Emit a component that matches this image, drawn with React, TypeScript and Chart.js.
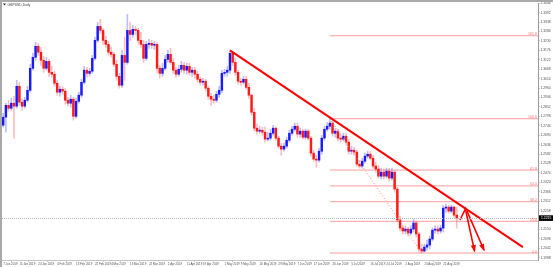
import { useEffect, useRef } from "react";
import { Chart, registerables } from "chart.js";

Chart.register(...registerables);

const symbolTitle = "GBPUSD,Daily";
const firstBar = 2;
// [open, high, low, close] per daily bar
const bars: [number, number, number, number][] = [
  [1.2793, 1.2821, 1.2730, 1.2747], [1.2747, 1.2816, 1.2736, 1.2793], [1.2793, 1.2873, 1.2707, 1.2861], [1.2861, 1.2890, 1.2827, 1.2844],
  [1.2844, 1.2902, 1.2833, 1.2873], [1.2873, 1.2913, 1.2673, 1.2856], [1.2856, 1.3004, 1.2844, 1.2970], [1.2970, 1.2993, 1.2861, 1.2879],
  [1.2879, 1.2896, 1.2833, 1.2856], [1.2856, 1.2907, 1.2844, 1.2890], [1.2890, 1.2970, 1.2879, 1.2947], [1.2947, 1.3096, 1.2936, 1.3073],
  [1.3073, 1.3159, 1.3062, 1.3136], [1.3136, 1.3222, 1.3119, 1.3199], [1.3199, 1.3216, 1.3147, 1.3165], [1.3165, 1.3193, 1.3090, 1.3119],
  [1.3119, 1.3142, 1.3050, 1.3073], [1.3073, 1.3136, 1.3062, 1.3113], [1.3113, 1.3124, 1.3027, 1.3050], [1.3050, 1.3084, 1.3022, 1.3039],
  [1.3039, 1.3056, 1.2970, 1.2987], [1.2987, 1.3004, 1.2919, 1.2936], [1.2936, 1.2970, 1.2913, 1.2953], [1.2953, 1.2970, 1.2924, 1.2942],
  [1.2942, 1.2959, 1.2867, 1.2890], [1.2890, 1.2907, 1.2856, 1.2873], [1.2873, 1.2919, 1.2850, 1.2896], [1.2896, 1.2907, 1.2776, 1.2798],
  [1.2798, 1.2902, 1.2787, 1.2884], [1.2884, 1.2936, 1.2873, 1.2919], [1.2919, 1.3010, 1.2907, 1.2993], [1.2993, 1.3084, 1.2982, 1.3062],
  [1.3062, 1.3079, 1.3022, 1.3044], [1.3044, 1.3073, 1.3027, 1.3056], [1.3056, 1.3147, 1.3044, 1.3130], [1.3130, 1.3250, 1.3119, 1.3233],
  [1.3233, 1.3336, 1.3222, 1.3313], [1.3313, 1.3353, 1.3273, 1.3290], [1.3290, 1.3302, 1.3210, 1.3233], [1.3233, 1.3256, 1.3193, 1.3210],
  [1.3210, 1.3227, 1.3147, 1.3165], [1.3165, 1.3193, 1.3136, 1.3153], [1.3153, 1.3165, 1.3084, 1.3096], [1.3096, 1.3119, 1.3004, 1.3027],
  [1.3027, 1.3044, 1.2959, 1.2976], [1.2976, 1.3176, 1.2964, 1.3147], [1.3147, 1.3250, 1.3004, 1.3107], [1.3107, 1.3382, 1.3096, 1.3290],
  [1.3290, 1.3336, 1.3233, 1.3267], [1.3267, 1.3319, 1.3250, 1.3296], [1.3296, 1.3313, 1.3267, 1.3290], [1.3290, 1.3302, 1.3210, 1.3233],
  [1.3233, 1.3279, 1.3193, 1.3210], [1.3210, 1.3233, 1.3107, 1.3130], [1.3130, 1.3227, 1.3119, 1.3210], [1.3210, 1.3239, 1.3187, 1.3216],
  [1.3216, 1.3233, 1.3187, 1.3205], [1.3205, 1.3227, 1.3182, 1.3210], [1.3210, 1.3222, 1.3050, 1.3073], [1.3073, 1.3090, 1.3016, 1.3044],
  [1.3044, 1.3102, 1.3027, 1.3073], [1.3073, 1.3147, 1.3062, 1.3124], [1.3124, 1.3176, 1.3107, 1.3153], [1.3153, 1.3187, 1.3096, 1.3107],
  [1.3107, 1.3130, 1.3044, 1.3062], [1.3062, 1.3079, 1.3022, 1.3039], [1.3039, 1.3090, 1.3027, 1.3067], [1.3067, 1.3113, 1.3050, 1.3090],
  [1.3090, 1.3107, 1.3044, 1.3062], [1.3062, 1.3102, 1.3039, 1.3084], [1.3084, 1.3102, 1.3033, 1.3050], [1.3050, 1.3079, 1.3027, 1.3062],
  [1.3062, 1.3079, 1.3016, 1.3039], [1.3039, 1.3056, 1.2993, 1.3010], [1.3010, 1.3022, 1.2976, 1.2993], [1.2993, 1.3016, 1.2976, 1.2999],
  [1.2999, 1.3010, 1.2942, 1.2959], [1.2959, 1.2970, 1.2896, 1.2913], [1.2913, 1.2930, 1.2861, 1.2896], [1.2896, 1.2919, 1.2873, 1.2890],
  [1.2890, 1.2942, 1.2879, 1.2924], [1.2924, 1.2970, 1.2907, 1.2947], [1.2947, 1.3062, 1.2930, 1.3044], [1.3044, 1.3067, 1.3027, 1.3050],
  [1.3050, 1.3084, 1.3027, 1.3062], [1.3062, 1.3176, 1.3044, 1.3159], [1.3159, 1.3165, 1.3090, 1.3107], [1.3107, 1.3130, 1.3033, 1.3050],
  [1.3050, 1.3062, 1.2982, 1.2999], [1.2999, 1.3016, 1.2976, 1.2993], [1.2993, 1.3027, 1.2982, 1.3010], [1.3010, 1.3027, 1.2953, 1.2964],
  [1.2964, 1.2987, 1.2902, 1.2919], [1.2919, 1.2924, 1.2804, 1.2821], [1.2821, 1.2844, 1.2713, 1.2730], [1.2730, 1.2753, 1.2696, 1.2713],
  [1.2713, 1.2741, 1.2701, 1.2718], [1.2718, 1.2736, 1.2690, 1.2707], [1.2707, 1.2736, 1.2650, 1.2667], [1.2667, 1.2707, 1.2656, 1.2673],
  [1.2673, 1.2724, 1.2661, 1.2701], [1.2701, 1.2747, 1.2690, 1.2730], [1.2730, 1.2736, 1.2661, 1.2673], [1.2673, 1.2684, 1.2616, 1.2627],
  [1.2627, 1.2644, 1.2575, 1.2610], [1.2610, 1.2644, 1.2598, 1.2627], [1.2627, 1.2678, 1.2616, 1.2661], [1.2661, 1.2718, 1.2650, 1.2701],
  [1.2701, 1.2741, 1.2690, 1.2724], [1.2724, 1.2759, 1.2713, 1.2741], [1.2741, 1.2759, 1.2678, 1.2696], [1.2696, 1.2730, 1.2678, 1.2713],
  [1.2713, 1.2724, 1.2667, 1.2678], [1.2678, 1.2724, 1.2667, 1.2713], [1.2713, 1.2724, 1.2661, 1.2673], [1.2673, 1.2684, 1.2570, 1.2587],
  [1.2587, 1.2604, 1.2541, 1.2553], [1.2553, 1.2575, 1.2507, 1.2547], [1.2547, 1.2616, 1.2536, 1.2598], [1.2598, 1.2690, 1.2581, 1.2673],
  [1.2673, 1.2741, 1.2661, 1.2724], [1.2724, 1.2764, 1.2713, 1.2741], [1.2741, 1.2784, 1.2724, 1.2759], [1.2759, 1.2770, 1.2684, 1.2701],
  [1.2701, 1.2730, 1.2678, 1.2713], [1.2713, 1.2724, 1.2656, 1.2673], [1.2673, 1.2696, 1.2650, 1.2667], [1.2667, 1.2701, 1.2656, 1.2684],
  [1.2684, 1.2701, 1.2633, 1.2650], [1.2650, 1.2667, 1.2581, 1.2598], [1.2598, 1.2627, 1.2581, 1.2604], [1.2604, 1.2621, 1.2575, 1.2593],
  [1.2593, 1.2604, 1.2513, 1.2524], [1.2524, 1.2547, 1.2501, 1.2513], [1.2513, 1.2558, 1.2501, 1.2541], [1.2541, 1.2587, 1.2530, 1.2570],
  [1.2570, 1.2598, 1.2558, 1.2581], [1.2581, 1.2598, 1.2547, 1.2558], [1.2558, 1.2575, 1.2501, 1.2513], [1.2513, 1.2536, 1.2478, 1.2496],
  [1.2496, 1.2518, 1.2444, 1.2455], [1.2455, 1.2501, 1.2438, 1.2478], [1.2478, 1.2496, 1.2438, 1.2455], [1.2455, 1.2501, 1.2444, 1.2484],
  [1.2484, 1.2501, 1.2427, 1.2444], [1.2444, 1.2501, 1.2432, 1.2478], [1.2478, 1.2490, 1.2364, 1.2381], [1.2381, 1.2392, 1.2192, 1.2204],
  [1.2204, 1.2227, 1.2141, 1.2158], [1.2158, 1.2170, 1.2124, 1.2141], [1.2141, 1.2170, 1.2124, 1.2152], [1.2152, 1.2164, 1.2112, 1.2129],
  [1.2129, 1.2170, 1.2118, 1.2152], [1.2152, 1.2209, 1.2135, 1.2187], [1.2187, 1.2198, 1.2106, 1.2124], [1.2124, 1.2135, 1.2026, 1.2038],
  [1.2038, 1.2066, 1.2015, 1.2026], [1.2026, 1.2066, 1.2021, 1.2049], [1.2049, 1.2089, 1.2032, 1.2061], [1.2061, 1.2112, 1.2038, 1.2095],
  [1.2095, 1.2158, 1.2084, 1.2146], [1.2146, 1.2170, 1.2129, 1.2152], [1.2152, 1.2170, 1.2124, 1.2141], [1.2141, 1.2175, 1.2129, 1.2158],
  [1.2158, 1.2289, 1.2135, 1.2272], [1.2272, 1.2295, 1.2249, 1.2278], [1.2278, 1.2289, 1.2244, 1.2255], [1.2255, 1.2289, 1.2244, 1.2278],
  [1.2278, 1.2284, 1.2221, 1.2232], [1.2232, 1.2278, 1.2158, 1.2215],
];

const xTickBars = [3, 9, 16, 23, 30, 37, 43, 50, 57, 64, 71, 77, 85, 91, 98, 105, 112, 118, 125, 132, 139, 145, 152, 159, 166];
const xTickLabels = [
  "7 Jan 2019", "15 Jan 2019", "24 Jan 2019", "4 Feb 2019", "13 Feb 2019", "22 Feb 2019", "4 Mar 2019",
  "13 Mar 2019", "22 Mar 2019", "2 Apr 2019", "11 Apr 2019", "19 Apr 2019", "1 May 2019", "9 May 2019",
  "20 May 2019", "29 May 2019", "7 Jun 2019", "17 Jun 2019", "26 Jun 2019", "5 Jul 2019", "16 Jul 2019",
  "24 Jul 2019", "2 Aug 2019", "13 Aug 2019", "22 Aug 2019",
];
const yTicks = [
  1.3446, 1.3392, 1.3338, 1.3284, 1.3230, 1.3176, 1.3122, 1.3068, 1.3014, 1.2960, 1.2906, 1.2852, 1.2798, 1.2744,
  1.2690, 1.2636, 1.2582, 1.2528, 1.2474, 1.2420, 1.2366, 1.2312, 1.2258, 1.2204, 1.2150, 1.2096, 1.2042, 1.1988,
];
const xRange = [2.56, 201.1];
const yRange = [1.1975, 1.3447];

const fibHighBar = 124;
const fibHighPrice = 1.2784;
const fibLowBar = 158;
const fibLowPrice = 1.2015;
const fibRatios = [0, 0.236, 0.382, 0.5, 0.618, 1, 1.618];
const fibLabels = ["0.0", "23.6", "38.2", "50.0", "61.8", "100.0", "161.8"];

const trendBars = [87, 195.5];
const trendPrices = [1.3176, 1.2049];
const arrow1Bars = [172.2, 174.2, 177.6];
const arrow1Prices = [1.2204, 1.2267, 1.2026];
const arrow2Bars = [174.8, 181.1];
const arrow2Prices = [1.2255, 1.2032];
const lastPrice = 1.2215;

const BULL = "#1a1aff";
const BEAR = "#ff1a1a";
const FONT = "'Liberation Sans', Arial, sans-serif";

export default function App() {
  const ref = useRef<HTMLCanvasElement | null>(null);

  useEffect(() => {
    if (!ref.current) return;
    const isBull = (b: number[]) => b[3] >= b[0];
    const wickData = bars.map((b, k) => ({ x: firstBar + k, y: [b[2], b[1]] }));
    const bodyData = bars.map((b, k) => ({ x: firstBar + k, y: [b[0], b[3]] }));
    const wickColors = bars.map((b) => (isBull(b) ? "rgba(90,90,255,0.4)" : "rgba(255,90,90,0.4)"));
    const bodyColors = bars.map((b) => (isBull(b) ? BULL : BEAR));

    const fibDatasets = fibRatios.map((r) => {
      const p = fibLowPrice + (fibHighPrice - fibLowPrice) * r;
      return {
        type: "line" as const,
        data: [{ x: fibHighBar, y: p }, { x: xRange[1], y: p }],
        borderColor: "#ff9c9c",
        borderWidth: 1,
        pointRadius: 0,
        order: 3,
      };
    });

    const arrowHeads = [
      { bars: arrow1Bars, prices: arrow1Prices },
      { bars: arrow2Bars, prices: arrow2Prices },
    ];

    const overlay = {
      id: "overlay",
      beforeDraw(chart: any) {
        const c = chart.ctx;
        c.save();
        c.fillStyle = "#ffffff";
        c.fillRect(0, 0, chart.width, chart.height);
        c.restore();
      },
      afterDatasetsDraw(chart: any) {
        const c = chart.ctx;
        const xs = chart.scales.x;
        const ys = chart.scales.y;
        const area = chart.chartArea;
        c.save();
        const yp = Math.round(ys.getPixelForValue(lastPrice)) + 0.5;
        c.strokeStyle = "#b8b8b8";
        c.lineWidth = 1;
        c.setLineDash([1, 1]);
        c.beginPath();
        c.moveTo(area.left, yp);
        c.lineTo(area.right, yp);
        c.stroke();
        c.setLineDash([]);
        c.fillStyle = "#ff0000";
        arrowHeads.forEach((a) => {
          const n = a.bars.length;
          const x1 = xs.getPixelForValue(a.bars[n - 2]);
          const y1 = ys.getPixelForValue(a.prices[n - 2]);
          const x2 = xs.getPixelForValue(a.bars[n - 1]);
          const y2 = ys.getPixelForValue(a.prices[n - 1]);
          const ang = Math.atan2(y2 - y1, x2 - x1);
          const len = 6;
          const hw = 2.6;
          c.beginPath();
          c.moveTo(x2 + Math.cos(ang) * 1.5, y2 + Math.sin(ang) * 1.5);
          c.lineTo(x2 - Math.cos(ang) * len + Math.sin(ang) * hw, y2 - Math.sin(ang) * len - Math.cos(ang) * hw);
          c.lineTo(x2 - Math.cos(ang) * len - Math.sin(ang) * hw, y2 - Math.sin(ang) * len + Math.cos(ang) * hw);
          c.closePath();
          c.fill();
        });
        c.fillStyle = "#ff7070";
        c.font = `3.6px ${FONT}`;
        c.textAlign = "right";
        c.textBaseline = "middle";
        fibRatios.forEach((r, k) => {
          const p = fibLowPrice + (fibHighPrice - fibLowPrice) * r;
          c.fillText(fibLabels[k], area.right - 1, ys.getPixelForValue(p) - 1.5);
        });
        c.restore();
      },
      afterDraw(chart: any) {
        const c = chart.ctx;
        const ys = chart.scales.y;
        const area = chart.chartArea;
        c.save();
        c.fillStyle = "#a9a9a9";
        c.fillRect(0, 0, chart.width, 2);
        c.fillRect(0, 0, 2, chart.height);
        c.fillStyle = "#202020";
        c.beginPath();
        c.moveTo(3, 3.5);
        c.lineTo(6, 3.5);
        c.lineTo(4.5, 5.5);
        c.closePath();
        c.fill();
        c.fillStyle = "#404040";
        c.font = `3.4px ${FONT}`;
        c.textAlign = "left";
        c.textBaseline = "middle";
        c.fillText(symbolTitle, 7.5, 4.6);
        const yp = ys.getPixelForValue(lastPrice);
        c.fillStyle = "#000000";
        c.fillRect(area.right + 1, yp - 2.8, chart.width - area.right - 1, 5.6);
        c.fillStyle = "#ffffff";
        c.font = `3.4px ${FONT}`;
        c.fillText(lastPrice.toFixed(4), area.right + 3, yp + 0.2);
        c.restore();
      },
    };

    const chart = new Chart(ref.current, {
      type: "bar",
      data: {
        datasets: [
          {
            type: "line",
            data: trendBars.map((b, k) => ({ x: b, y: trendPrices[k] })),
            borderColor: "#ff0000",
            borderWidth: 2,
            pointRadius: 0,
            order: 0,
          },
          {
            type: "line",
            data: arrow1Bars.map((b, k) => ({ x: b, y: arrow1Prices[k] })),
            borderColor: "#ff0000",
            borderWidth: 1.6,
            pointRadius: 0,
            order: 0,
          },
          {
            type: "line",
            data: arrow2Bars.map((b, k) => ({ x: b, y: arrow2Prices[k] })),
            borderColor: "#ff0000",
            borderWidth: 1.6,
            pointRadius: 0,
            order: 0,
          },
          {
            type: "line",
            data: [{ x: fibHighBar, y: fibHighPrice }, { x: fibLowBar, y: fibLowPrice }],
            borderColor: "#ff8c8c",
            borderWidth: 1,
            borderDash: [1, 2],
            pointRadius: 0,
            order: 0,
          },
          {
            type: "bar",
            data: bodyData as any,
            backgroundColor: bodyColors,
            borderWidth: 0,
            barThickness: 1.8,
            minBarLength: 1,
            grouped: false,
            order: 1,
          } as any,
          {
            type: "bar",
            data: wickData as any,
            backgroundColor: wickColors,
            borderWidth: 0,
            barThickness: 1,
            grouped: false,
            order: 2,
          } as any,
          ...fibDatasets,
        ] as any,
      },
      options: {
        animation: false,
        responsive: false,
        events: [],
        layout: { padding: { left: 2, top: 3, right: 0, bottom: 0 } },
        plugins: { legend: { display: false }, tooltip: { enabled: false } },
        scales: {
          x: {
            type: "linear",
            min: xRange[0],
            max: xRange[1],
            offset: false,
            afterFit: (s: any) => {
              s.height = 7;
            },
            afterBuildTicks: (s: any) => {
              s.ticks = xTickBars.map((v) => ({ value: v }));
            },
            grid: { drawOnChartArea: false, drawTicks: true, tickLength: 1.5, color: "#9a9a9a" },
            border: { display: true, color: "#c4c4c4", dash: [1, 1] },
            ticks: {
              autoSkip: false,
              maxRotation: 0,
              align: "start",
              padding: 0.8,
              color: "#505050",
              font: { size: 2.9, family: FONT },
              callback: (v: any) => {
                const k = xTickBars.indexOf(Number(v));
                return k >= 0 ? xTickLabels[k] : "";
              },
            },
          },
          y: {
            type: "linear",
            position: "right",
            min: yRange[0],
            max: yRange[1],
            beginAtZero: false,
            afterFit: (s: any) => {
              s.width = 15;
            },
            afterBuildTicks: (s: any) => {
              s.ticks = yTicks.map((v) => ({ value: v }));
            },
            grid: { drawOnChartArea: false, drawTicks: true, tickLength: 1.5, color: "#9a9a9a" },
            border: { display: true, color: "#9a9a9a" },
            ticks: {
              padding: 1,
              color: "#505050",
              font: { size: 3.3, family: FONT },
              callback: (v: any) => Number(v).toFixed(4),
            },
          },
        },
      } as any,
      plugins: [overlay],
    });

    return () => chart.destroy();
  }, []);

  return (
    <div style={{ position: "fixed", left: 0, top: 0, width: 553, height: 267, background: "#fff" }}>
      <canvas ref={ref} width={553} height={267} style={{ display: "block", width: 553, height: 267 }} />
    </div>
  );
}
